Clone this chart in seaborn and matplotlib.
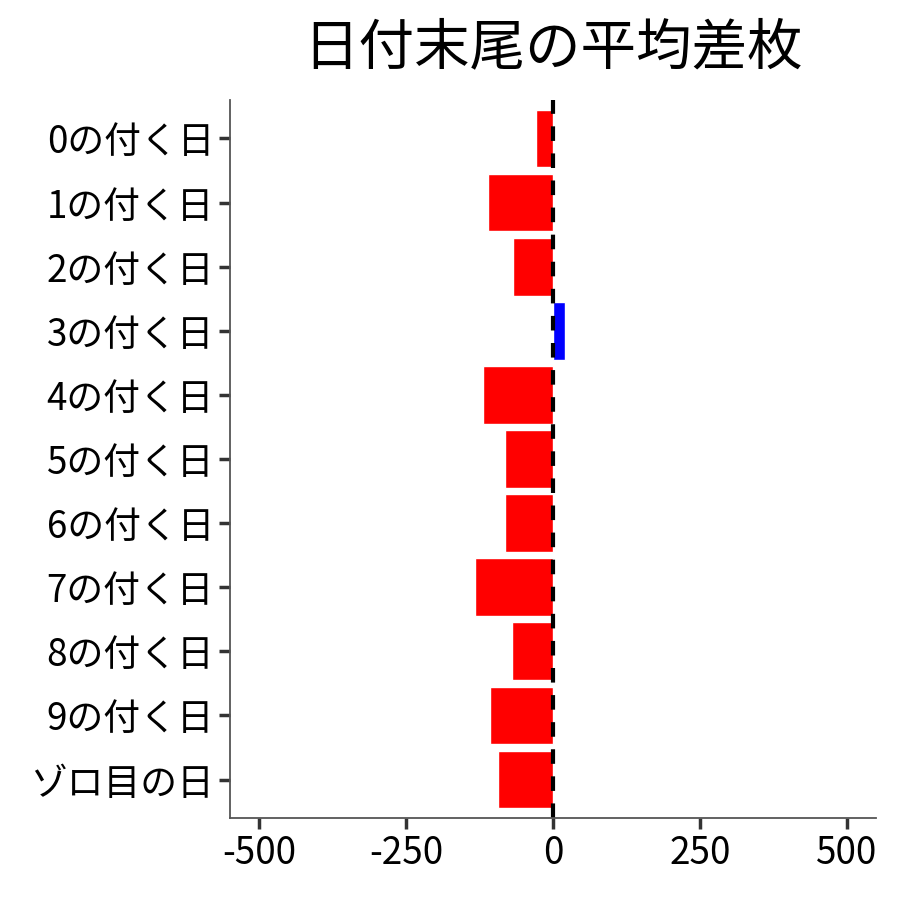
import numpy as np
import pandas as pd
import seaborn as sns
from matplotlib import pyplot as plt

# values
labels = ["0の付く日", "1の付く日", "2の付く日", "3の付く日", "4の付く日",
          "5の付く日", "6の付く日", "7の付く日", "8の付く日", "9の付く日", "ゾロ目の日"]
diffs = [-29, -110, -68, 20, -119, -81, -81, -132, -69, -107, -93]
xticks = [-500, -250, 0, 250, 500]

df = pd.DataFrame({"label": labels, "diff": diffs})
df["sign"] = np.where(df["diff"] >= 0, "plus", "minus")

sns.set_theme(style="ticks")
plt.rcParams["font.family"] = ["Noto Sans CJK JP", "DejaVu Sans"]

fig = plt.figure(figsize=(9, 9), dpi=100)
ax = fig.add_axes([0.2556, 0.0911, 0.7177, 0.7978])

sns.barplot(data=df, x="diff", y="label", hue="sign", order=labels,
            palette={"plus": "#0000ff", "minus": "#ff0000"},
            width=0.9, dodge=False, legend=False, saturation=1, ax=ax)
ax.axvline(0, color="black", linestyle=(0, (3.5, 3)), linewidth=3)

ax.set_xlim(-550, 550)
ax.set_ylim(len(labels) - 0.4, -0.6)
ax.set_xticks(xticks)
ax.set_xticklabels([str(v) for v in xticks])
ax.set_xlabel("")
ax.set_ylabel("")
ax.set_title("日付末尾の平均差枚", fontsize=40, pad=26, color="black")
ax.tick_params(axis="both", labelsize=26.5, length=8, width=2.5, color="#333333",
               labelcolor="black")
for side in ["left", "bottom"]:
    ax.spines[side].set_color("#555555")
    ax.spines[side].set_linewidth(1.3)
sns.despine(ax=ax)

plt.savefig("out.png", dpi=100)
